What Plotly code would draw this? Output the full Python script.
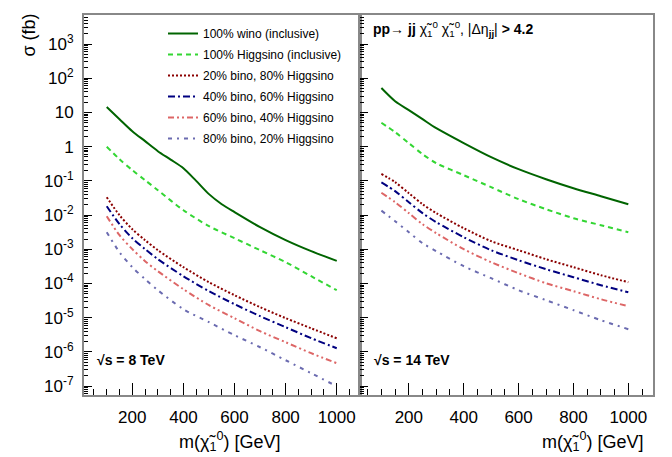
import plotly.graph_objects as go

# ---------------- data ----------------
mass_wino_8 = [100, 150, 200, 250, 300, 350, 400, 450, 500, 550, 600, 700, 800, 900, 1000]
wino_8 = [14.5, 6.37, 2.84, 1.45, 0.738, 0.42, 0.235, 0.1, 0.041, 0.0208, 0.0122,
          4.43e-3, 1.85e-3, 8.8e-4, 4.6e-4]

mass = [100, 150, 200, 250, 300, 400, 500, 600, 700, 800, 900, 1000]
higgsino_8 = [1.0, 0.431, 0.206, 0.105, 0.0535, 0.0139, 4.74e-3, 2.11e-3, 9.4e-4, 4.2e-4, 1.63e-4, 6.37e-5]
bino20_8 = [0.0333, 0.0099, 0.00387, 1.85e-3, 9.4e-4, 3.0e-4, 1.09e-4, 4.55e-5, 2.03e-5, 9.7e-6, 4.9e-6, 2.5e-6]
bino40_8 = [0.0182, 0.00542, 0.00211, 1.01e-3, 5.14e-4, 1.63e-4, 5.96e-5, 2.48e-5, 1.11e-5, 5.27e-6, 2.52e-6, 1.28e-6]
bino60_8 = [0.00929, 0.00258, 0.00101, 4.49e-4, 2.29e-4, 6.81e-5, 2.32e-5, 9.66e-6, 4.03e-6, 1.92e-6, 9.17e-7, 4.68e-7]
bino80_8 = [3.16e-3, 8.22e-4, 3.0e-4, 1.34e-4, 6.37e-5, 1.77e-5, 7.38e-6, 3.08e-6, 1.37e-6, 5.71e-7, 2.38e-7, 9.9e-8]

wino_14 = [52.0, 21.4, 11.7, 6.37, 3.47, 1.27, 0.493, 0.22, 0.112, 0.0612, 0.0357, 0.0208]
higgsino_14 = [5.0, 2.65, 1.27, 0.604, 0.33, 0.147, 0.0655, 0.0292, 0.0149, 8.12e-3, 5.07e-3, 3.16e-3]
bino20_14 = [0.16, 0.0916, 0.0437, 0.0208, 0.0114, 4.14e-3, 1.73e-3, 9.4e-4, 5.14e-4, 3.0e-4, 1.75e-4, 1.09e-4]
bino40_14 = [0.09, 0.05, 0.0238, 0.0114, 6.2e-3, 2.26e-3, 9.4e-4, 4.8e-4, 2.62e-4, 1.53e-4, 8.9e-5, 5.57e-5]
bino60_14 = [0.045, 0.0238, 0.0114, 5.42e-3, 2.96e-3, 1.01e-3, 4.2e-4, 2.0e-4, 1.02e-4, 5.96e-5, 3.47e-5, 2.17e-5]
bino80_14 = [0.0135, 6.64e-3, 3.16e-3, 1.51e-3, 8.8e-4, 3.2e-4, 1.43e-4, 6.37e-5, 3.25e-5, 1.66e-5, 8.45e-6, 4.61e-6]

labels = ["100% wino (inclusive)", "100% Higgsino (inclusive)", "20% bino, 80% Higgsino",
          "40% bino, 60% Higgsino", "60% bino, 40% Higgsino", "80% bino, 20% Higgsino"]

y_tick_exp = [3, 2, 1, 0, -1, -2, -3, -4, -5, -6, -7]
y_tick_text = ["10<sup>3</sup>", "10<sup>2</sup>", "10", "1", "10<sup>-1</sup>", "10<sup>-2</sup>",
               "10<sup>-3</sup>", "10<sup>-4</sup>", "10<sup>-5</sup>", "10<sup>-6</sup>", "10<sup>-7</sup>"]

# ---------------- styles ----------------
styles = [
    dict(color="#006400", dash="solid", width=2),
    dict(color="#33d633", dash="5px,4px", width=2),
    dict(color="#8b0000", dash="2px,2px", width=2),
    dict(color="#000080", dash="7px,3px,2px,3px", width=2),
    dict(color="#dd6666", dash="6px,3px,2px,3px,2px,3px", width=2),
    dict(color="#6b6bb0", dash="4px,5px,2px,5px", width=2),
]

FONT = "Liberation Sans, Arial, Helvetica, sans-serif"
W, H = 672, 457
L, R, T, B = 84, 653, 15, 395
split = (360 - L) / (R - L)

def px(x):
    return (x - L) / (R - L)

def py(y):
    return (B - y) / (B - T)

fig = go.Figure()

series_8 = [(mass_wino_8, wino_8), (mass, higgsino_8), (mass, bino20_8),
            (mass, bino40_8), (mass, bino60_8), (mass, bino80_8)]
series_14 = [(mass, wino_14), (mass, higgsino_14), (mass, bino20_14),
             (mass, bino40_14), (mass, bino60_14), (mass, bino80_14)]

for i, ((xs, ys), st) in enumerate(zip(series_8, styles)):
    fig.add_trace(go.Scatter(x=xs, y=ys, mode="lines", name=labels[i], line=dict(shape="spline", smoothing=0.8, **st),
                             legendgroup=f"g{i}", xaxis="x", yaxis="y"))
for i, ((xs, ys), st) in enumerate(zip(series_14, styles)):
    fig.add_trace(go.Scatter(x=xs, y=ys, mode="lines", name=labels[i], line=dict(shape="spline", smoothing=0.8, **st),
                             legendgroup=f"g{i}", showlegend=False, xaxis="x2", yaxis="y2"))

minor_y = [m * 10 ** e for e in range(-8, 4) for m in range(2, 10)]

common_x = dict(tickmode="linear", tick0=0, dtick=200, ticks="inside", ticklen=12, tickwidth=1,
                tickcolor="black", showline=True, linecolor="#888888", linewidth=2, mirror=True,
                showgrid=False, zeroline=False, tickfont=dict(size=17, color="black", family=FONT),
                ticklabelstandoff=6,
                minor=dict(tickmode="linear", tick0=0, dtick=50, ticks="inside", ticklen=6,
                           tickcolor="black", tickwidth=1, showgrid=False))
common_y = dict(type="log", range=[-7.26, 3.85], tickmode="array",
                tickvals=[10 ** e for e in y_tick_exp], ticktext=y_tick_text,
                ticks="inside", ticklen=8, tickwidth=1, tickcolor="black",
                showline=True, linecolor="#888888", linewidth=2, mirror=True,
                showgrid=False, zeroline=False, tickfont=dict(size=17, color="black", family=FONT),
                ticklabelstandoff=5,
                minor=dict(tickmode="array", tickvals=minor_y, ticks="inside", ticklen=4,
                           tickcolor="black", tickwidth=1, showgrid=False))

fig.update_layout(
    width=W, height=H,
    margin=dict(l=L, r=W - R, t=T, b=H - B, pad=0),
    plot_bgcolor="white", paper_bgcolor="white",
    font=dict(family=FONT, color="black"),
    xaxis=dict(domain=[0, split], range=[11, 1091], anchor="y", **common_x),
    xaxis2=dict(domain=[split, 1], range=[22, 1090], anchor="y2", **common_x),
    yaxis=dict(domain=[0, 1], anchor="x", **common_y),
    yaxis2=dict(domain=[0, 1], anchor="x2", showticklabels=False, **common_y),
    legend=dict(x=px(163), y=py(19), xanchor="left", yanchor="top", bgcolor="rgba(0,0,0,0)",
                font=dict(size=12, family=FONT, color="black"), traceorder="grouped",
                tracegroupgap=2, itemwidth=30),
    showlegend=True,
)

ann = dict(xref="paper", yref="paper", showarrow=False)
fig.add_annotation(x=px(28), y=py(12), text="σ (fb)", textangle=-90, xanchor="center", yanchor="top",
                   font=dict(family=FONT, color="black", size=18), **ann)
fig.add_annotation(x=px(229), y=py(441), text="m(χ̃<sub>1</sub><sup>0</sup>) [GeV]", xanchor="center", yanchor="middle",
                   font=dict(family=FONT, color="black", size=18), **ann)
fig.add_annotation(x=px(592), y=py(441), text="m(χ̃<sub>1</sub><sup>0</sup>) [GeV]", xanchor="center", yanchor="middle",
                   font=dict(family=FONT, color="black", size=18), **ann)
fig.add_annotation(x=px(95), y=py(360), text="<b>√s = 8 TeV</b>", xanchor="left", yanchor="middle",
                   font=dict(family=FONT, color="black", size=14), **ann)
fig.add_annotation(x=px(372), y=py(360), text="<b>√s = 14 TeV</b>", xanchor="left", yanchor="middle",
                   font=dict(family=FONT, color="black", size=14), **ann)
fig.add_annotation(x=px(371), y=py(29),
                   text="<b>pp</b>→ <b>jj</b> χ̃<sub>1</sub><sup>0</sup> χ̃<sub>1</sub><sup>0</sup>, |Δη<sub><b>jj</b></sub>| <b>> 4.2</b>",
                   xanchor="left", yanchor="middle",
                   font=dict(family=FONT, color="black", size=14), **ann)

fig.write_html("out.html", config={"displayModeBar": False},
               post_script="document.body.style.margin='0';document.body.style.overflow='hidden';")
